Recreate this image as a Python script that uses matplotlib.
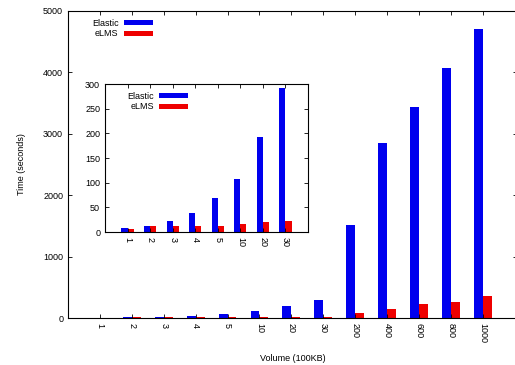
import matplotlib
matplotlib.use("Agg")
import matplotlib.pyplot as plt
import numpy as np

plt.rcParams['font.family'] = ['Liberation Sans', 'DejaVu Sans']

categories = ["1", "2", "3", "4", "5", "10", "20", "30", "200", "400", "600", "800", "1000"]
elastic = [8, 12, 22, 38, 69, 107, 193, 292, 1515, 2850, 3440, 4070, 4705]
elms = [7, 12, 12, 12, 13, 16, 20, 22, 80, 150, 230, 260, 360]

inset_categories = ["1", "2", "3", "4", "5", "10", "20", "30"]
inset_elastic = [8, 12, 22, 38, 69, 107, 193, 292]
inset_elms = [7, 12, 12, 12, 13, 16, 20, 22]

W, H = 515, 365
fig = plt.figure(figsize=(W / 100, H / 100), dpi=100)

BLUE = "#0000ee"
RED = "#ee0000"
FS = 6.5


def style(ax):
    ax.tick_params(direction="in", top=True, right=True, labelsize=FS, length=3, width=0.6)
    for s in ax.spines.values():
        s.set_linewidth(0.8)


# main axes (right spine falls just outside the image, as in the reference)
ax = fig.add_axes([68 / W, 1 - 318 / H, (517 - 68) / W, (318 - 11) / H])
x = np.arange(1, len(categories) + 1)
bw = 0.28
ax.bar(x - bw / 2, elastic, bw, color=BLUE, label="Elastic")
ax.bar(x + bw / 2, elms, bw, color=RED, label="eLMS")
ax.set_xlim(0, len(categories) + 1.07)
ax.set_ylim(0, 5000)
ax.set_xticks(x)
ax.set_xticklabels(categories, rotation=-90)
ax.set_yticks([0, 1000, 2000, 3000, 4000, 5000])
style(ax)
ax.set_xlabel("Volume (100KB)", fontsize=FS, labelpad=8)
ax.set_ylabel("Time (seconds)", fontsize=FS, labelpad=12)
ax.legend(loc="upper left", bbox_to_anchor=(0.035, 1.0), frameon=False, fontsize=FS,
          markerfirst=False, handlelength=3.2, handleheight=0.5, labelspacing=0.15,
          handletextpad=0.6)

# inset axes
ax2 = fig.add_axes([105 / W, 1 - 232 / H, (308 - 105) / W, (232 - 84) / H])
xi = np.arange(1, len(inset_categories) + 1)
bw2 = 0.27
ax2.bar(xi - bw2 / 2, inset_elastic, bw2, color=BLUE, label="Elastic")
ax2.bar(xi + bw2 / 2, inset_elms, bw2, color=RED, label="eLMS")
ax2.set_xlim(0, len(inset_categories) + 1)
ax2.set_ylim(0, 300)
ax2.set_xticks(xi)
ax2.set_xticklabels(inset_categories, rotation=-90)
ax2.set_yticks([0, 50, 100, 150, 200, 250, 300])
style(ax2)
ax2.legend(loc="upper left", bbox_to_anchor=(0.07, 1.0), frameon=False, fontsize=FS,
           markerfirst=False, handlelength=3.2, handleheight=0.5, labelspacing=0.15,
           handletextpad=0.6)

fig.savefig("out.png", dpi=100)
